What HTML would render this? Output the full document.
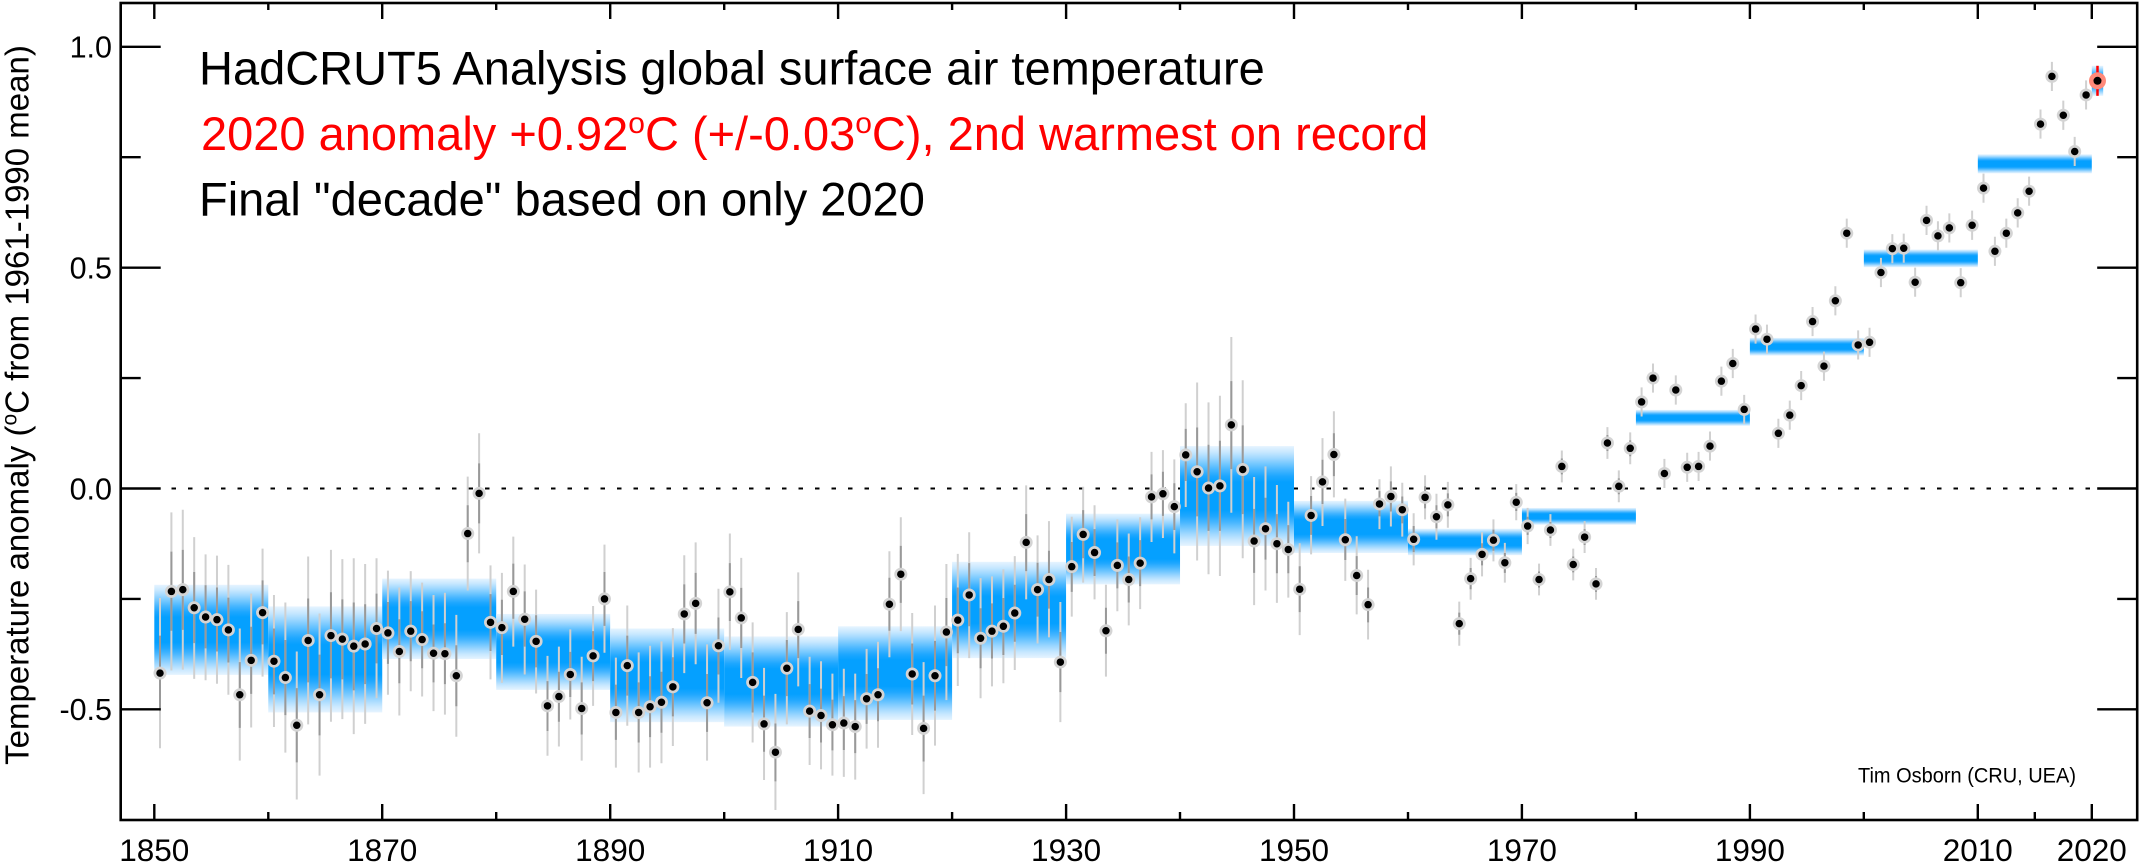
<!DOCTYPE html>
<html>
<head>
<meta charset="utf-8">
<style>
html,body{margin:0;padding:0;background:#fff;overflow:hidden;}
svg{display:block;}
text{font-family:"Liberation Sans",Arial,Helvetica,sans-serif;}
</style>
</head>
<body>
<svg xmlns="http://www.w3.org/2000/svg" width="2141" height="865" viewBox="0 0 2141 865">
<defs>
<linearGradient id="bg" x1="0" y1="0" x2="0" y2="1">
<stop offset="0" stop-color="#e6f4ff"/>
<stop offset="0.06" stop-color="#c8e8ff"/>
<stop offset="0.12" stop-color="#a0d8ff"/>
<stop offset="0.18" stop-color="#72c7ff"/>
<stop offset="0.24" stop-color="#45b5ff"/>
<stop offset="0.30" stop-color="#1ea7ff"/>
<stop offset="0.36" stop-color="#05a0ff"/>
<stop offset="0.64" stop-color="#05a0ff"/>
<stop offset="0.70" stop-color="#1ea7ff"/>
<stop offset="0.76" stop-color="#45b5ff"/>
<stop offset="0.82" stop-color="#72c7ff"/>
<stop offset="0.88" stop-color="#a0d8ff"/>
<stop offset="0.94" stop-color="#c8e8ff"/>
<stop offset="1" stop-color="#e6f4ff"/>
</linearGradient>
<path id="pts" vector-effect="non-scaling-stroke" d="M.5-.418h.001M1.5-.233h.001M2.5-.229h.001M3.5-.27h.001M4.5-.291h.001M5.5-.297h.001M6.5-.32h.001M7.5-.467h.001M8.5-.389h.001M9.5-.281h.001M10.5-.391h.001M11.5-.428h.001M12.5-.536h.001M13.5-.344h.001M14.5-.467h.001M15.5-.333h.001M16.5-.341h.001M17.5-.357h.001M18.5-.352h.001M19.5-.317h.001M20.5-.327h.001M21.5-.369h.001M22.5-.323h.001M23.5-.342h.001M24.5-.373h.001M25.5-.374h.001M26.5-.424h.001M27.5-.102h.001M28.5-.011h.001M29.5-.303h.001M30.5-.315h.001M31.5-.233h.001M32.5-.296h.001M33.5-.346h.001M34.5-.492h.001M35.5-.471h.001M36.5-.421h.001M37.5-.498h.001M38.5-.379h.001M39.5-.25h.001M40.5-.507h.001M41.5-.401h.001M42.5-.507h.001M43.5-.494h.001M44.5-.484h.001M45.5-.449h.001M46.5-.284h.001M47.5-.26h.001M48.5-.485h.001M49.5-.356h.001M50.5-.234h.001M51.5-.293h.001M52.5-.439h.001M53.5-.533h.001M54.5-.597h.001M55.5-.407h.001M56.5-.319h.001M57.5-.504h.001M58.5-.514h.001M59.5-.535h.001M60.5-.531h.001M61.5-.539h.001M62.5-.476h.001M63.5-.467h.001M64.5-.262h.001M65.5-.194h.001M66.5-.42h.001M67.5-.543h.001M68.5-.424h.001M69.5-.325h.001M70.5-.298h.001M71.5-.241h.001M72.5-.339h.001M73.5-.323h.001M74.5-.312h.001M75.5-.282h.001M76.5-.122h.001M77.5-.229h.001M78.5-.206h.001M79.5-.393h.001M80.5-.177h.001M81.5-.104h.001M82.5-.145h.001M83.5-.322h.001M84.5-.174h.001M85.5-.206h.001M86.5-.169h.001M87.5-.019h.001M88.5-.012h.001M89.5-.041h.001M90.5 .076h.001M91.5 .038h.001M92.5 .001h.001M93.5 .006h.001M94.5 .144h.001M95.5 .043h.001M96.5-.119h.001M97.5-.091h.001M98.5-.125h.001M99.5-.138h.001M100.5-.228h.001M101.5-.061h.001M102.5 .015h.001M103.5 .077h.001M104.5-.116h.001M105.5-.197h.001M106.5-.263h.001M107.5-.035h.001M108.5-.018h.001M109.5-.048h.001M110.5-.115h.001M111.5-.02h.001M112.5-.064h.001M113.5-.037h.001M114.5-.306h.001M115.5-.204h.001M116.5-.149h.001M117.5-.117h.001M118.5-.168h.001M119.5-.031h.001M120.5-.085h.001M121.5-.206h.001M122.5-.094h.001M123.5 .05h.001M124.5-.172h.001M125.5-.11h.001M126.5-.216h.001M127.5 .103h.001M128.5 .005h.001M129.5 .091h.001M130.5 .196h.001M131.5 .25h.001M132.5 .034h.001M133.5 .223h.001M134.5 .048h.001M135.5 .05h.001M136.5 .096h.001M137.5 .243h.001M138.5 .283h.001M139.5 .179h.001M140.5 .361h.001M141.5 .338h.001M142.5 .125h.001M143.5 .166h.001M144.5 .233h.001M145.5 .378h.001M146.5 .277h.001M147.5 .425h.001M148.5 .578h.001M149.5 .325h.001M150.5 .331h.001M151.5 .489h.001M152.5 .543h.001M153.5 .544h.001M154.5 .467h.001M155.5 .607h.001M156.5 .572h.001M157.5 .59h.001M158.5 .466h.001M159.5 .596h.001M160.5 .68h.001M161.5 .537h.001M162.5 .578h.001M163.5 .624h.001M164.5 .673h.001M165.5 .825h.001M166.5 .933h.001M167.5 .845h.001M168.5 .763h.001M169.5 .891h.001"/>
</defs>
<rect x="0" y="0" width="2141" height="865" fill="#fff"/>

<!-- zero line -->
<line x1="122" y1="488.5" x2="2136" y2="488.5" stroke="#000" stroke-width="2" stroke-dasharray="4.5 12"/>

<g transform="matrix(11.397 0 0 -441.7 154.3 488.5)">
<g fill="url(#bg)">
<rect x="0" y="-.422" width="10" height=".204"/>
<rect x="10" y="-.507" width="10" height=".24"/>
<rect x="20" y="-.386" width="10" height=".182"/>
<rect x="30" y="-.456" width="10" height=".172"/>
<rect x="40" y="-.529" width="10" height=".212"/>
<rect x="50" y="-.539" width="10" height=".204"/>
<rect x="60" y="-.524" width="10" height=".212"/>
<rect x="70" y="-.384" width="10" height=".218"/>
<rect x="80" y="-.217" width="10" height=".16"/>
<rect x="90" y="-.13" width="10" height=".226"/>
<rect x="100" y="-.146" width="10" height=".118"/>
<rect x="110" y="-.151" width="10" height=".06"/>
<rect x="120" y="-.082" width="10" height=".038"/>
<rect x="130" y=".142" width="10" height=".036"/>
<rect x="140" y=".301" width="10" height=".04"/>
<rect x="150" y=".501" width="10" height=".04"/>
<rect x="160" y=".7135" width="10" height=".043"/>
<rect x="170" y=".889" width="1" height=".068"/>
</g>

<!-- light error bars -->
<path fill="none" stroke="#d0d0d0" stroke-width="2" vector-effect="non-scaling-stroke" d="M.5-.418m0-.17v.34M1.5-.233m0-.179v.358M2.5-.229m0-.181v.362M3.5-.27m0-.161v.321M4.5-.291m0-.143v.285M5.5-.297m0-.145v.29M6.5-.32m0-.147v.294M7.5-.467m0-.149v.299M8.5-.389m0-.152v.303M9.5-.281m0-.145v.29M10.5-.391m0-.149v.299M11.5-.428m0-.17v.34M12.5-.536m0-.168v.335M13.5-.344m0-.19v.38M14.5-.467m0-.183v.367M15.5-.333m0-.195v.389M16.5-.341m0-.181v.362M17.5-.357m0-.199v.398M18.5-.352m0-.181v.362M19.5-.317m0-.158v.317M20.5-.327m0-.14v.281M21.5-.369m0-.145v.29M22.5-.323m0-.136v.272M23.5-.342m0-.129v.258M24.5-.373m0-.131v.263M25.5-.374m0-.138v.276M26.5-.424m0-.138v.276M27.5-.102m0-.129v.258M28.5-.011m0-.136v.272M29.5-.303m0-.129v.258M30.5-.315m0-.125v.249M31.5-.233m0-.125v.249M32.5-.296m0-.125v.249M33.5-.346m0-.118v.235M34.5-.492m0-.113v.226M35.5-.471m0-.113v.226M36.5-.421m0-.102v.204M37.5-.498m0-.118v.235M38.5-.379m0-.113v.226M39.5-.25m0-.122v.245M40.5-.507m0-.125v.249M41.5-.401m0-.136v.272M42.5-.507m0-.136v.272M43.5-.494m0-.138v.276M44.5-.484m0-.138v.276M45.5-.449m0-.134v.267M46.5-.284m0-.134v.267M47.5-.26m0-.138v.276M48.5-.485m0-.131v.263M49.5-.356m0-.129v.258M50.5-.234m0-.131v.263M51.5-.293m0-.136v.272M52.5-.439m0-.136v.272M53.5-.533m0-.127v.254M54.5-.597m0-.131v.263M55.5-.407m0-.127v.254M56.5-.319m0-.129v.258M57.5-.504m0-.122v.245M58.5-.514m0-.122v.245M59.5-.535m0-.115v.231M60.5-.531m0-.122v.245M61.5-.539m0-.12v.24M62.5-.476m0-.113v.226M63.5-.467m0-.12v.24M64.5-.262m0-.12v.24M65.5-.194m0-.129v.258M66.5-.42m0-.138v.276M67.5-.543m0-.149v.299M68.5-.424m0-.158v.317M69.5-.325m0-.154v.308M70.5-.298m0-.149v.299M71.5-.241m0-.143v.285M72.5-.339m0-.136v.272M73.5-.323m0-.125v.249M74.5-.312m0-.129v.258M75.5-.282m0-.129v.258M76.5-.122m0-.129v.258M77.5-.229m0-.122v.245M78.5-.206m0-.131v.263M79.5-.393m0-.136v.272M80.5-.177m0-.113v.226M81.5-.104m0-.109v.217M82.5-.145m0-.106v.213M83.5-.322m0-.104v.208M84.5-.174m0-.104v.208M85.5-.206m0-.104v.208M86.5-.169m0-.104v.208M87.5-.019m0-.102v.204M88.5-.012m0-.1v.199M89.5-.041m0-.106v.213M90.5 .076m0-.118v.235M91.5 .038m0-.201v.403M92.5 .001m0-.195v.389M93.5 .006m0-.204v.408M94.5 .144m0-.199v.398M95.5 .043m0-.201v.403M96.5-.119m0-.145v.29M97.5-.091m0-.14v.281M98.5-.125m0-.134v.267M99.5-.138m0-.109v.217M100.5-.228m0-.104v.208M101.5-.061m0-.088v.177M102.5 .015m0-.1v.199M103.5 .077m0-.097v.195M104.5-.116m0-.093v.186M105.5-.197m0-.088v.177M106.5-.263m0-.079v.158M107.5-.035m0-.057v.113M108.5-.018m0-.068v.136M109.5-.048m0-.061v.122M110.5-.115m0-.059v.118M111.5-.02m0-.05v.1M112.5-.064m0-.052v.104M113.5-.037m0-.052v.104M114.5-.306m0-.05v.1M115.5-.204m0-.048v.095M116.5-.149m0-.05v.1M117.5-.117m0-.048v.095M118.5-.168m0-.045v.09M119.5-.031m0-.041v.082M120.5-.085m0-.041v.082M121.5-.206m0-.036v.072M122.5-.094m0-.036v.072M123.5 .05m0-.036v.072M124.5-.172m0-.036v.072M125.5-.11m0-.036v.072M126.5-.216m0-.036v.072M127.5 .103m0-.036v.072M128.5 .005m0-.036v.072M129.5 .091m0-.036v.072M130.5 .196m0-.033v.066M131.5 .25m0-.033v.066M132.5 .034m0-.033v.066M133.5 .223m0-.033v.066M134.5 .048m0-.033v.066M135.5 .05m0-.033v.066M136.5 .096m0-.033v.066M137.5 .243m0-.033v.066M138.5 .283m0-.033v.066M139.5 .179m0-.033v.066M140.5 .361m0-.033v.066M141.5 .338m0-.033v.066M142.5 .125m0-.033v.066M143.5 .166m0-.033v.066M144.5 .233m0-.033v.066M145.5 .378m0-.033v.066M146.5 .277m0-.033v.066M147.5 .425m0-.033v.066M148.5 .578m0-.033v.066M149.5 .325m0-.033v.066M150.5 .331m0-.033v.066M151.5 .489m0-.033v.066M152.5 .543m0-.033v.066M153.5 .544m0-.033v.066M154.5 .467m0-.033v.066M155.5 .607m0-.033v.066M156.5 .572m0-.033v.066M157.5 .59m0-.033v.066M158.5 .466m0-.033v.066M159.5 .596m0-.033v.066M160.5 .68m0-.033v.066M161.5 .537m0-.033v.066M162.5 .578m0-.033v.066M163.5 .624m0-.033v.066M164.5 .673m0-.033v.066M165.5 .825m0-.033v.066M166.5 .933m0-.033v.066M167.5 .845m0-.033v.066M168.5 .763m0-.033v.066M169.5 .891m0-.033v.066"/>

<!-- dark inner error bars -->
<path fill="none" stroke="#999" stroke-width="2" vector-effect="non-scaling-stroke" d="M.5-.418m0-.085v.17M1.5-.233m0-.089v.179M2.5-.229m0-.091v.181M3.5-.27m0-.08v.161M4.5-.291m0-.071v.143M5.5-.297m0-.072v.145M6.5-.32m0-.074v.147M7.5-.467m0-.075v.149M8.5-.389m0-.076v.152M9.5-.281m0-.072v.145M10.5-.391m0-.075v.149M11.5-.428m0-.085v.17M12.5-.536m0-.084v.168M13.5-.344m0-.095v.19M14.5-.467m0-.092v.183M15.5-.333m0-.097v.195M16.5-.341m0-.091v.181M17.5-.357m0-.1v.199M18.5-.352m0-.091v.181M19.5-.317m0-.079v.158M20.5-.327m0-.07v.14M21.5-.369m0-.072v.145M22.5-.323m0-.068v.136M23.5-.342m0-.065v.129M24.5-.373m0-.066v.131M25.5-.374m0-.069v.138M26.5-.424m0-.069v.138M27.5-.102m0-.065v.129M28.5-.011m0-.068v.136M29.5-.303m0-.065v.129M30.5-.315m0-.062v.125M31.5-.233m0-.062v.125M32.5-.296m0-.062v.125M33.5-.346m0-.059v.118M34.5-.492m0-.057v.113M35.5-.471m0-.057v.113M36.5-.421m0-.051v.102M37.5-.498m0-.059v.118M38.5-.379m0-.057v.113M39.5-.25m0-.061v.122M40.5-.507m0-.062v.125M41.5-.401m0-.068v.136M42.5-.507m0-.068v.136M43.5-.494m0-.069v.138M44.5-.484m0-.069v.138M45.5-.449m0-.067v.134M46.5-.284m0-.067v.134M47.5-.26m0-.069v.138M48.5-.485m0-.066v.131M49.5-.356m0-.065v.129M50.5-.234m0-.066v.131M51.5-.293m0-.068v.136M52.5-.439m0-.068v.136M53.5-.533m0-.063v.127M54.5-.597m0-.066v.131M55.5-.407m0-.063v.127M56.5-.319m0-.065v.129M57.5-.504m0-.061v.122M58.5-.514m0-.061v.122M59.5-.535m0-.058v.115M60.5-.531m0-.061v.122M61.5-.539m0-.06v.12M62.5-.476m0-.057v.113M63.5-.467m0-.06v.12M64.5-.262m0-.06v.12M65.5-.194m0-.065v.129M66.5-.42m0-.069v.138M67.5-.543m0-.075v.149M68.5-.424m0-.079v.158M69.5-.325m0-.077v.154M70.5-.298m0-.075v.149M71.5-.241m0-.071v.143M72.5-.339m0-.068v.136M73.5-.323m0-.062v.125M74.5-.312m0-.065v.129M75.5-.282m0-.065v.129M76.5-.122m0-.065v.129M77.5-.229m0-.061v.122M78.5-.206m0-.066v.131M79.5-.393m0-.068v.136M80.5-.177m0-.057v.113M81.5-.104m0-.054v.109M82.5-.145m0-.053v.106M83.5-.322m0-.052v.104M84.5-.174m0-.052v.104M85.5-.206m0-.052v.104M86.5-.169m0-.052v.104M87.5-.019m0-.051v.102M88.5-.012m0-.05v.1M89.5-.041m0-.053v.106M90.5 .076m0-.059v.118M91.5 .038m0-.101v.201M92.5 .001m0-.097v.195M93.5 .006m0-.102v.204M94.5 .144m0-.1v.199M95.5 .043m0-.101v.201M96.5-.119m0-.072v.145M97.5-.091m0-.07v.14M98.5-.125m0-.067v.134M99.5-.138m0-.054v.109M100.5-.228m0-.052v.104M101.5-.061m0-.044v.088M102.5 .015m0-.05v.1M103.5 .077m0-.049v.097M104.5-.116m0-.046v.093M105.5-.197m0-.044v.088M106.5-.263m0-.04v.079M107.5-.035m0-.028v.057M108.5-.018m0-.034v.068M109.5-.048m0-.031v.061M110.5-.115m0-.029v.059M111.5-.02m0-.025v.05M112.5-.064m0-.026v.052M113.5-.037m0-.026v.052M114.5-.306m0-.025v.05M115.5-.204m0-.024v.048M116.5-.149m0-.025v.05M117.5-.117m0-.024v.048M118.5-.168m0-.023v.045M119.5-.031m0-.02v.041M120.5-.085m0-.02v.041M121.5-.206m0-.018v.036M122.5-.094m0-.018v.036M123.5 .05m0-.018v.036M124.5-.172m0-.018v.036M125.5-.11m0-.018v.036M126.5-.216m0-.018v.036M127.5 .103m0-.018v.036M128.5 .005m0-.018v.036M129.5 .091m0-.018v.036"/>

<!-- halos and dots -->
<use href="#pts" fill="none" stroke="#d4d4d4" stroke-width="13" stroke-linecap="round"/>
<use href="#pts" fill="none" stroke="#000" stroke-width="7.5" stroke-linecap="round"/>

<!-- 2020 -->
<path d="M170.5 .889V.957" fill="none" stroke="#ff0000" stroke-width="2.5" vector-effect="non-scaling-stroke"/>
<path d="M170.5 .923h.001" fill="none" stroke="#ff8a7a" stroke-width="17" stroke-linecap="round" vector-effect="non-scaling-stroke"/>
<path d="M170.5 .923h.001" fill="none" stroke="#000" stroke-width="8" stroke-linecap="round" vector-effect="non-scaling-stroke"/>
</g>

<!-- frame -->
<rect x="120.7" y="3" width="2016.5" height="817" fill="none" stroke="#000" stroke-width="2.6"/>

<!-- ticks -->
<path fill="none" stroke="#000" stroke-width="2.4" d="
M120.7 46.8h40M120.7 267.65h40M120.7 488.5h40M120.7 709.35h40
M120.7 157.2h20M120.7 378.1h20M120.7 598.9h20
M2137.2 46.8h-40M2137.2 267.65h-40M2137.2 488.5h-40M2137.2 709.35h-40
M2137.2 157.2h-20M2137.2 378.1h-20M2137.2 598.9h-20
M154.3 820v-16M382.2 820v-16M610.2 820v-16M838.1 820v-16M1066.1 820v-16M1294 820v-16M1521.9 820v-16M1749.9 820v-16M1977.8 820v-16M2091.8 820v-16
M268.3 820v-8M496.2 820v-8M724.2 820v-8M952.1 820v-8M1180 820v-8M1408 820v-8M1635.9 820v-8M1863.8 820v-8M2034.8 820v-8
M154.3 3v16M382.2 3v16M610.2 3v16M838.1 3v16M1066.1 3v16M1294 3v16M1521.9 3v16M1749.9 3v16M1977.8 3v16M2091.8 3v16
M268.3 3v7M496.2 3v7M724.2 3v7M952.1 3v7M1180 3v7M1408 3v7M1635.9 3v7M1863.8 3v7M2034.8 3v7"/>

<!-- y tick labels -->
<g font-size="30.5" fill="#000" text-anchor="end">
<text x="112" y="57.6">1.0</text>
<text x="112" y="278.5">0.5</text>
<text x="112" y="499.3">0.0</text>
<text x="112" y="720.2">-0.5</text>
</g>

<!-- x tick labels -->
<g font-size="31.5" fill="#000" text-anchor="middle">
<text x="154.3" y="861">1850</text>
<text x="382.2" y="861">1870</text>
<text x="610.2" y="861">1890</text>
<text x="838.1" y="861">1910</text>
<text x="1066.1" y="861">1930</text>
<text x="1294" y="861">1950</text>
<text x="1521.9" y="861">1970</text>
<text x="1749.9" y="861">1990</text>
<text x="1977.8" y="861">2010</text>
<text x="2091.8" y="861">2020</text>
</g>

<!-- y axis label -->
<text transform="translate(28.5 405) rotate(-90)" text-anchor="middle" font-size="33" fill="#000">Temperature anomaly (<tspan font-size="21" dy="-12">o</tspan><tspan dy="12">C from 1961-1990 mean)</tspan></text>

<!-- titles -->
<text x="199" y="84.3" font-size="47" fill="#000">HadCRUT5 Analysis global surface air temperature</text>
<text x="201" y="150" font-size="47" fill="#ff0000">2020 anomaly +0.92<tspan font-size="30" dy="-17">o</tspan><tspan dy="17">C (+/-0.03</tspan><tspan font-size="30" dy="-17">o</tspan><tspan dy="17">C), 2nd warmest on record</tspan></text>
<text x="199" y="215.5" font-size="47" fill="#000">Final "decade" based on only 2020</text>

<!-- credit -->
<text x="1858" y="782.5" font-size="21" fill="#000" textLength="218" lengthAdjust="spacingAndGlyphs">Tim Osborn (CRU, UEA)</text>
</svg>
</body>
</html>
